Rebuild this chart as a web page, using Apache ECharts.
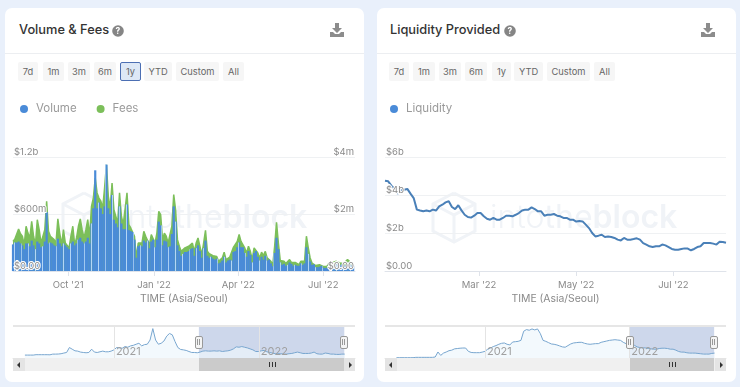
<!DOCTYPE html>
<html>
<head>
<meta charset="utf-8">
<script src="https://cdn.jsdelivr.net/npm/echarts@6/dist/echarts.min.js"></script>
<style>
  html, body { margin: 0; width: 740px; height: 387px; overflow: hidden; background: #e9f0fb; font-family: Inter, sans-serif; }
  .card { position: absolute; top: 8px; width: 359px; height: 374px; background: #fff; border-radius: 7px; }
  .head { position: absolute; left: 0; right: 0; top: 45px; height: 1px; background: #eceef1; }
  .title { position: absolute; top: 13px; font-size: 12.8px; font-weight: 500; color: #333; line-height: 18px; white-space: nowrap; }
  .chart { position: absolute; top: 0; width: 370px; height: 387px; }
  .btn { position: absolute; top: 54px; height: 19px; line-height: 19px; box-sizing: border-box; text-align: center; font-size: 9.3px; color: #666; background: #f6f6f6; border-radius: 2px; }
  .btn.on { background: #dde8f6; border: 1px solid #4c6fb3; line-height: 17px; }
  .ui { position: absolute; }
</style>
</head>
<body>
<div id="cards"></div>
<div class="chart" id="chartA" style="left:0"></div>
<div class="chart" id="chartB" style="left:370px"></div>
<div id="overlay"></div>
<script>
// volume & fees chart, one reading every 2 days from 3 Aug 2021
const volumeM = [280,300,300,310,290,270,230,290,290,260,320,270,230,310,290,250,260,310,620,
  290,300,290,270,260,340,290,260,290,270,250,230,290,310,270,290,330,350,310,290,310,350,290,
  500,660,1060,660,720,660,600,680,1120,660,600,800,540,500,460,680,500,440,440,700,430,420,410,330,140,
  260,270,260,320,300,320,240,310,330,250,330,520,480,270,320,310,250,260,390,680,520,270,210,160,180,200,200,210,230,240,160,240,270,210,140,240,320,160,140,150,130,120,130,80,90,110,150,90,110,120,110,
  200,210,250,300,250,250,190,150,210,170,90,190,210,150,110,150,120,160,110,120,80,50,190,350,230,90,65,75,55,65,90,75,55,65,55,55,80,65,80,250,180,100,65,70,40,40,45,55,35,30,35,60,80,65,55,70,85,60,70,55,60,85,95,60,55];
const feesK = [1040,1120,1190,1470,1310,1220,920,1570,1330,1160,1740,1220,920,1800,1450,980,1040,1450,2450,1390,1220,1280,1100,980,1830,1330,920,1450,980,920,810,1220,1570,920,1160,1570,1830,1450,1160,1450,1800,1220,
  2270,2560,3260,2740,2560,2450,2210,2910,3730,2620,2210,3090,2150,1920,1680,2740,1920,1630,1630,2740,1630,1510,1510,1220,460,
  980,980,980,1390,1220,1280,920,1280,1330,980,1330,2090,1980,1100,1330,1220,980,1040,1570,2680,2150,1100,870,690,750,810,810,870,920,980,690,980,1160,870,570,980,1430,690,610,630,540,490,510,340,370,460,660,400,460,490,460,
  840,870,1040,1280,1040,1040,810,630,870,690,400,810,840,630,460,660,540,690,460,510,340,220,870,1710,980,370,300,340,260,280,400,300,260,300,230,220,340,280,340,1220,810,460,280,300,190,190,220,260,160,140,160,280,340,300,260,340,370,280,300,260,300,400,420,280,260];
// liquidity chart, one reading every 2 days from 1 Jan 2022
const liquidityB = [4.75,4.72,4.49,4.32,4.07,4.25,4.28,4.32,4.07,3.84,3.23,3.18,3.14,3.18,3.14,3.23,3.18,3.40,3.49,3.61,3.67,3.37,3.26,3.46,3.19,2.96,2.84,2.81,2.91,3.05,3.05,2.88,2.75,2.70,2.79,2.70,2.70,2.79,2.91,2.91,2.88,2.96,3.05,3.18,3.23,3.23,3.35,3.26,3.14,3.14,2.91,2.96,2.96,3.00,2.91,2.88,2.79,2.79,2.70,2.70,2.60,2.63,2.61,2.44,2.26,2.00,1.82,1.86,1.91,1.79,1.82,1.79,1.74,1.65,1.61,1.74,1.65,1.65,1.68,1.72,1.65,1.47,1.39,1.30,1.26,1.30,1.30,1.39,1.35,1.26,1.16,1.12,1.12,1.16,1.19,1.18,1.09,1.16,1.26,1.30,1.47,1.47,1.47,1.44,1.39,1.54,1.53,1.49];
// navigators, one reading a week from 22 May 2020
const navVolumeM = [300,300,300,300,340,340,340,340,340,330,400,400,410,440,510,570,1080,910,740,710,610,570,540,570,910,610,570,640,710,640,640,710,840,1080,1040,1010,1180,1110,1250,1310,1420,1520,1250,1380,1420,1850,3030,1850,1420,1520,1750,2260,2530,2390,1690,1080,880,840,780,670,570,570,540,610,710,740,710,710,740,710,740,670,710,740,810,940,1150,1110,1180,1110,1040,940,840,670,670,740,780,640,570,510,440,440,440,400,400,440,470,540,610,540,470,470,470,510,610,440,400,400,510,470,400,400,370,370,400,400];
const navLiquidityB = [0.1,0.1,0.1,0.1,0.1,0.1,0.1,0.2,0.2,0.2,0.2,0.2,0.2,0.2,0.3,1.84,0.8,1.5,1.84,2.24,2.4,2.8,2.9,3.0,3.06,3.06,2.04,1.7,1.63,1.63,1.63,1.8,2.04,2.7,3.06,3.5,3.8,4.2,4.5,4.6,4.2,4.0,4.9,5.0,5.1,5.4,8.2,8.7,8.5,8.9,8.6,8.9,7.5,5.4,5.1,4.7,4.3,4.2,4.0,3.7,3.4,3.3,3.8,4.3,4.6,4.7,4.8,4.8,4.5,4.3,4.2,4.3,4.4,4.4,4.8,5.0,5.2,5.4,5.5,5.6,5.5,5.4,4.8,4.4,4.3,4.1,3.9,3.4,3.2,3.1,3.1,2.9,2.8,2.7,2.7,2.9,3.0,3.0,2.9,2.7,2.7,2.4,2.0,1.8,1.8,1.6,1.5,1.5,1.5,1.4,1.3,1.2,1.2,1.2,1.4,1.5];

const volumeTicks = ['2021-10-01', '2022-01-01', '2022-04-01', '2022-07-01'];
const volumeTickLabels = ["Oct '21", "Jan '22", "Apr '22", "Jul '22"];
const liquidityTicks = ['2022-03-01', '2022-05-01', '2022-07-01'];
const liquidityTickLabels = ["Mar '22", "May '22", "Jul '22"];
const navTicks = ['2021-01-01', '2022-01-01'];
const navTickLabels = ['2021', '2022'];
const ranges = ['7d', '1m', '3m', '6m', '1y', 'YTD', 'Custom', 'All'];

const BLUE = '#4a8bd8';
const GREEN = '#7cbf5a';
const GREY = '#8a8a8a';
const WATERMARK = '#f0f3f7';

const ts = (d) => Date.parse(d + 'T00:00:00Z');
const DAY = 86400000;
const pairs = (start, step, values) => values.map((v, i) => [ts(start) + i * step * DAY, v]);

const money = (suffix) => (v) => (v === 0 ? '$0.00' : '$' + v + suffix);
const tickFormatter = (ticks, labels) => (v) => labels[ticks.map(ts).indexOf(v)] || '';

function watermark(x) {
  return [
    { type: 'polyline', z: 0, shape: { points: [[x + 21, 0], [x + 42, 11], [x + 42, 38], [x + 21, 49], [x, 38], [x, 11], [x + 21, 0]].map(([a, b]) => [a, b + 193]) }, style: { stroke: WATERMARK, lineWidth: 3, fill: null } },
    { type: 'polyline', z: 0, shape: { points: [[x, 11], [x + 21, 22], [x + 42, 11], [x + 21, 22], [x + 21, 49]].map(([a, b]) => [a, b + 193]) }, style: { stroke: WATERMARK, lineWidth: 3, fill: null } },
    {
      type: 'text', z: 0, left: x + 57, top: 202,
      style: {
        text: '{a|into}{b|the}{c|block}',
        rich: {
          a: { font: '300 32px Inter', fill: WATERMARK },
          b: { font: '400 32px Inter', fill: WATERMARK },
          c: { font: '600 32px Inter', fill: WATERMARK }
        }
      }
    }
  ];
}

// dates go on a value axis so the ticks can sit on exact month starts
function timeAxis(opt) {
  return {
    type: 'value',
    gridIndex: opt.gridIndex,
    min: ts(opt.min),
    max: ts(opt.max),
    z: opt.nav ? 5 : 0,
    axisLine: { lineStyle: { color: opt.nav ? '#e4e4e4' : '#dfe3ea' } },
    axisTick: { length: opt.nav ? 0 : 5, lineStyle: { color: '#dfe3ea' }, customValues: opt.ticks.map(ts) },
    axisLabel: {
      customValues: opt.ticks.map(ts),
      formatter: tickFormatter(opt.ticks, opt.labels),
      color: opt.nav ? '#a0a0a0' : GREY,
      fontFamily: 'Inter',
      fontSize: opt.nav ? 11 : 9.5,
      inside: !!opt.nav,
      align: opt.nav ? 'left' : 'center',
      margin: opt.nav ? 1 : 9,
      padding: opt.nav ? [0, 0, 0, 2] : 0,
      hideOverlap: false
    },
    splitLine: { show: !!opt.nav, lineStyle: { color: '#e4e4e4' } },
    name: opt.name,
    nameLocation: 'middle',
    nameGap: 23,
    nameTextStyle: { color: GREY, fontFamily: 'Inter', fontSize: 10.4 }
  };
}

// labels sit above the marks, gridlines below them, so each gets its own axis
function labelAxis(opt) {
  return {
    type: 'value',
    gridIndex: opt.gridIndex,
    min: 0,
    max: opt.max,
    interval: opt.interval,
    position: opt.position || 'left',
    z: 5,
    axisLine: { show: false },
    axisTick: { show: false },
    splitLine: { show: false },
    axisLabel: {
      inside: true,
      margin: 1,
      verticalAlign: 'bottom',
      color: GREY,
      fontFamily: 'Inter',
      fontSize: 9.5,
      textBorderColor: '#fff',
      textBorderWidth: 2,
      formatter: opt.formatter,
      showMinLabel: true,
      showMaxLabel: true
    }
  };
}

function gridAxis(gridIndex, max, interval) {
  return {
    type: 'value', gridIndex, min: 0, max, interval, z: 0,
    axisLine: { show: false }, axisTick: { show: false }, axisLabel: { show: false },
    splitLine: { lineStyle: { color: '#eff1f3' } }
  };
}

const navAxis = (gridIndex, max) => ({ type: 'value', gridIndex, min: 0, max, show: false });

function navSeries(data, xAxisIndex, yAxisIndex, selStart, selEnd) {
  return {
    name: 'Navigator',
    type: 'line',
    xAxisIndex,
    yAxisIndex,
    data,
    showSymbol: false,
    z: 3,
    lineStyle: { color: '#78a6cf', width: 1 },
    areaStyle: { color: '#eef6fc' },
    markArea: {
      silent: true,
      itemStyle: { color: 'rgba(102,133,194,0.33)' },
      data: [[{ xAxis: ts(selStart) }, { xAxis: ts(selEnd) }]]
    }
  };
}

const legendBase = {
  top: 98,
  left: 15,
  icon: 'circle',
  itemWidth: 8,
  itemHeight: 8,
  itemGap: 20,
  itemStyle: { decal: 'none' },
  textStyle: { color: '#9a9a9a', fontFamily: 'Inter', fontSize: 11.5, padding: [0, 0, 0, 3] },
  selectedMode: false
};

const chartA = echarts.init(document.getElementById('chartA'));
chartA.setOption({
  animation: false,
  legend: { ...legendBase, data: ['Volume', 'Fees'] },
  graphic: watermark(63),
  grid: [
    { left: 13, top: 157, width: 342, height: 114 },
    { left: 13, top: 326, width: 342, height: 32 }
  ],
  xAxis: [
    timeAxis({ gridIndex: 0, min: '2021-08-03', max: '2022-08-04', ticks: volumeTicks, labels: volumeTickLabels, name: 'TIME (Asia/Seoul)' }),
    timeAxis({ gridIndex: 1, nav: true, min: '2020-04-22', max: '2022-08-31', ticks: navTicks, labels: navTickLabels })
  ],
  yAxis: [
    labelAxis({ gridIndex: 0, max: 1200, interval: 600, formatter: (v) => (v === 0 ? '$0.00' : v >= 1000 ? '$' + v / 1000 + 'b' : '$' + v + 'm') }),
    labelAxis({ gridIndex: 0, max: 4000, interval: 2000, position: 'right', formatter: (v) => (v === 0 ? '$0.00' : '$' + v / 1000 + 'm') }),
    gridAxis(0, 1200, 600),
    navAxis(1, 3300)
  ],
  series: [
    {
      name: 'Fees', type: 'line', xAxisIndex: 0, yAxisIndex: 1, data: pairs('2021-08-03', 2, feesK),
      showSymbol: false, z: 2, itemStyle: { color: GREEN }, lineStyle: { color: GREEN, width: 1.5 }, areaStyle: { color: GREEN, opacity: 1 }
    },
    {
      name: 'Volume', type: 'bar', xAxisIndex: 0, yAxisIndex: 0, data: pairs('2021-08-03', 2, volumeM),
      barWidth: 2.2, z: 3,
      itemStyle: {
        color: BLUE,
        decal: { symbol: 'rect', symbolSize: 1, dashArrayX: [1, 6], dashArrayY: [4, 0], rotation: 0, color: '#b4d6f5' }
      }
    },
    navSeries(pairs('2020-05-22', 7, navVolumeM), 1, 3, '2021-08-03', '2022-08-04')
  ]
});

const chartB = echarts.init(document.getElementById('chartB'));
chartB.setOption({
  animation: false,
  legend: { ...legendBase, data: ['Liquidity'] },
  graphic: watermark(63),
  grid: [
    { left: 15, top: 157, width: 341, height: 114 },
    { left: 15, top: 326, width: 341, height: 32 }
  ],
  xAxis: [
    timeAxis({ gridIndex: 0, min: '2022-01-01', max: '2022-08-03', ticks: liquidityTicks, labels: liquidityTickLabels, name: 'TIME (Asia/Seoul)' }),
    timeAxis({ gridIndex: 1, nav: true, min: '2020-04-23', max: '2022-09-03', ticks: navTicks, labels: navTickLabels })
  ],
  yAxis: [
    labelAxis({ gridIndex: 0, max: 6, interval: 2, formatter: money('b') }),
    gridAxis(0, 6, 2),
    navAxis(1, 9.8)
  ],
  series: [
    {
      name: 'Liquidity', type: 'line', xAxisIndex: 0, yAxisIndex: 0, data: pairs('2022-01-01', 2, liquidityB),
      showSymbol: false, z: 3, itemStyle: { color: BLUE }, lineStyle: { color: '#4a80b8', width: 2 }
    },
    navSeries(pairs('2020-05-22', 7, navLiquidityB), 1, 2, '2022-01-01', '2022-08-04')
  ]
});

// page furniture: cards, range buttons, header icons, navigator scrollbars
const btnBoxesA = [[18, 20], [43, 21], [68, 22], [94, 22], [120, 21], [144, 28], [176, 43], [223, 21]];
const btnBoxesB = [[389, 20], [413, 22], [439, 22], [465, 22], [492, 19], [514, 29], [547, 43], [594, 21]];

const helpIcon = (x) => `<svg class="ui" style="left:${x - 6}px;top:25px" width="12" height="12" viewBox="0 0 12 12"><circle cx="6" cy="6" r="5.8" fill="#858585"/><text x="6" y="9" text-anchor="middle" font-family="Inter" font-size="8.5" font-weight="700" fill="#fff">?</text></svg>`;
const downloadIcon = (x) => `<svg class="ui" style="left:${x - 7}px;top:23px" width="14" height="14" viewBox="0 0 14 14"><path d="M5 0h4v5h3L7 10 2 5h3z" fill="#8c8c8c"/><path d="M0 9h3l2 2h4l2-2h3v5H0z" fill="#8c8c8c"/></svg>`;

function scrollbar(left, right, thumbL, thumbR) {
  const rect = (x, y, w, h, css) => `<div class="ui" style="left:${x}px;top:${y}px;width:${w}px;height:${h}px;${css}"></div>`;
  const handle = (x) => rect(x - 4, 336, 6, 11, 'background:#f4f4f4;border:1px solid #999;border-radius:2px') +
    rect(x - 2, 339, 1, 6, 'background:#999') + rect(x, 339, 1, 6, 'background:#999');
  const mid = (thumbL + thumbR) / 2;
  return rect(left, 325, right - left, 2, 'background:#e6e6e6') +
    rect(left, 358, right - left, 13, 'background:#f0f0f0') +
    rect(thumbL, 358, thumbR - thumbL, 13, 'background:#cbcbcb') +
    rect(left, 358, 12, 13, 'background:#e4e4e4') +
    rect(right - 11, 358, 11, 13, 'background:#e4e4e4') +
    `<div class="ui" style="left:${left + 4}px;top:362px;border:3px solid transparent;border-right:3px solid #333;border-left:0"></div>` +
    `<div class="ui" style="left:${right - 6}px;top:362px;border:3px solid transparent;border-left:3px solid #333;border-right:0"></div>` +
    rect(mid - 3, 362, 1, 5, 'background:#333') + rect(mid, 362, 1, 5, 'background:#333') + rect(mid + 3, 362, 1, 5, 'background:#333') +
    handle(thumbL) + handle(thumbR);
}

function cardHtml(left, titleLeft, title, boxes, active) {
  const btns = ranges.map((r, i) => `<div class="btn${i === active ? ' on' : ''}" style="left:${boxes[i][0] - left}px;width:${boxes[i][1]}px">${r}</div>`).join('');
  return `<div class="card" style="left:${left}px"><div class="title" style="left:${titleLeft}px">${title}</div><div class="head"></div>${btns}</div>`;
}

document.getElementById('cards').innerHTML =
  cardHtml(5, 14, 'Volume &amp; Fees', btnBoxesA, 4) + cardHtml(377, 13, 'Liquidity Provided', btnBoxesB, -1);
document.getElementById('overlay').innerHTML =
  helpIcon(118) + helpIcon(510) + downloadIcon(337) + downloadIcon(708) +
  scrollbar(13, 355, 199, 344) + scrollbar(385, 726, 630, 714);
</script>
</body>
</html>
